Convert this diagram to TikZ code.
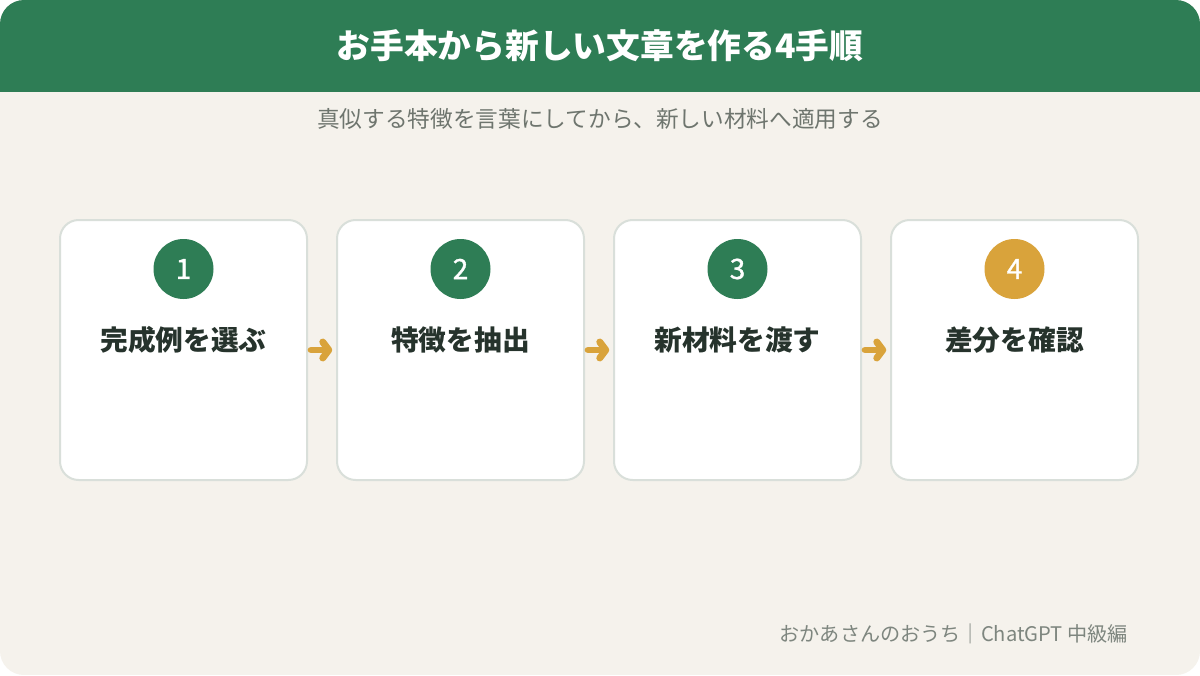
\documentclass[tikz,border=0pt]{standalone}
\usepackage{fontspec}
\setmainfont{Noto Sans CJK JP}
\newfontfamily\numfont{Noto Sans CJK JP}[FakeBold=1.2]
\usetikzlibrary{arrows.meta}
\definecolor{hdr}{HTML}{2E7D55}
\definecolor{bg}{HTML}{F5F2EC}
\definecolor{gold}{HTML}{D9A33B}
\definecolor{edge}{HTML}{D9DFDA}
\definecolor{sub}{HTML}{6E756E}
\definecolor{foot}{HTML}{7E867F}
\definecolor{ink}{HTML}{26332C}
\tikzset{
  card/.style={draw=edge, line width=1.5pt, fill=white, rounded corners=14pt},
  badge/.style={circle, minimum size=45pt, inner sep=0pt, text=white, font=\numfont\fontsize{21}{21}\selectfont},
  steplabel/.style={text=ink, font=\bfseries\fontsize{20.8}{21}\selectfont},
  flow/.style={draw=gold, line width=5.2pt, line cap=round, line join=round, -{Straight Barb[round, length=4.5pt, width=12pt, line width=5.2pt]}, shorten <=3pt, shorten >=3.5pt}
}
\begin{document}
\begin{tikzpicture}[x=0.75pt,y=-0.75pt]
\useasboundingbox (0,0) rectangle (1200,675);
\fill[white] (0,0) rectangle (1200,675);
\begin{scope}
\clip[rounded corners=18pt] (0,0) rectangle (1200,675);
\fill[bg] (0,0) rectangle (1200,675);
\fill[hdr] (0,0) rectangle (1200,92);
\end{scope}
\node[text=white, font=\bfseries\fontsize{25.3}{26}\selectfont] (title) at (600,46) {お手本から新しい文章を作る4手順};
\node[text=sub, font=\fontsize{17}{18}\selectfont] (subtitle) at (600,119) {真似する特徴を言葉にしてから、新しい材料へ適用する};
\foreach \i/\x/\c/\t in {1/183.5/hdr/完成例を選ぶ, 2/460.5/hdr/特徴を抽出, 3/737.5/hdr/新材料を渡す, 4/1014.5/gold/差分を確認}{
  \path[card] (\x-123.5,220) rectangle (\x+123.5,480);
  \node (box\i) at (\x,350) [minimum width=185pt, minimum height=195pt, inner sep=0pt] {};
  \node[badge, fill=\c] (badge\i) at (\x,269) {\i};
  \node[steplabel] (label\i) at (\x,340) {\t};
}
\draw[flow] (box1.east) -- (box2.west);
\draw[flow] (box2.east) -- (box3.west);
\draw[flow] (box3.east) -- (box4.west);
\node[anchor=east, inner sep=0pt, text=foot, font=\fontsize{15.1}{16}\selectfont] (footer) at (1128,634) {おかあさんのおうち｜ChatGPT 中級編};
\end{tikzpicture}
\end{document}
